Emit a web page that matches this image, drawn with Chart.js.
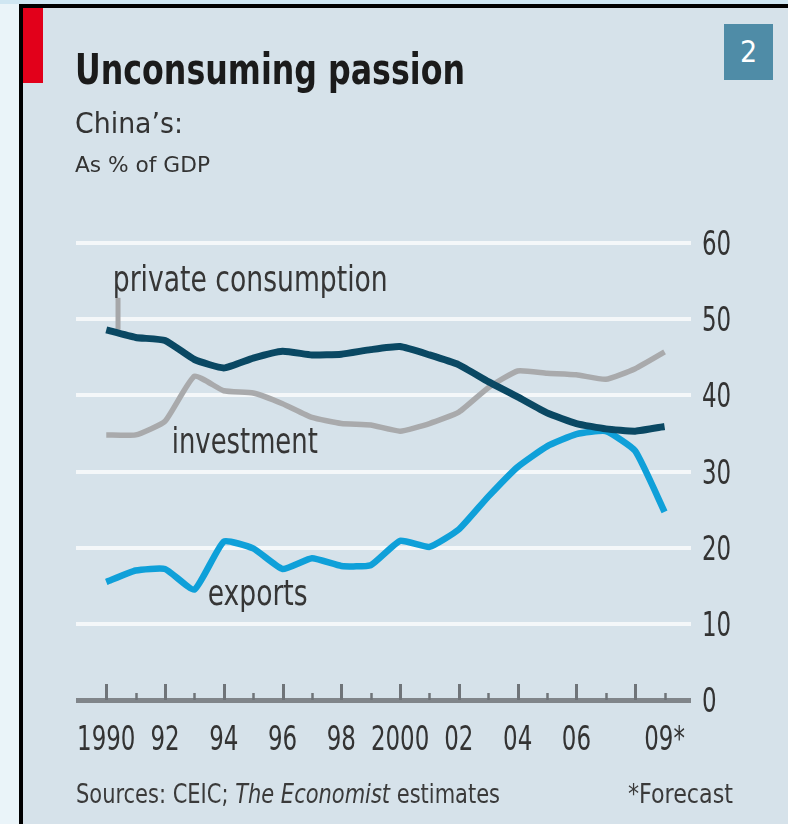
<!DOCTYPE html>
<html>
<head>
<meta charset="utf-8">
<script src="https://cdn.jsdelivr.net/npm/chart.js@4.4.0/dist/chart.umd.min.js"></script>
<style>
  html, body { margin: 0; padding: 0; }
  body { width: 788px; height: 824px; background: #eaf4f9; position: relative; overflow: hidden; }
  #topstrip { position: absolute; left: 0; top: 0; width: 788px; height: 4px; background: #cfe6f2; }
  #panel { position: absolute; left: 19px; top: 4px; width: 769px; height: 820px; background: #d6e2ea;
           border-left: 4px solid #000; border-top: 4px solid #000; box-sizing: border-box; }
  #redbar { position: absolute; left: 23px; top: 8px; width: 20px; height: 75px; background: #e2001a; }
  #badge { position: absolute; left: 724px; top: 24px; width: 49px; height: 56px; background: #4f8ca7;
           color: #fff; font: 30px 'DejaVu Sans Condensed', sans-serif; text-align: center; line-height: 56px; }
  #wrap { position: absolute; left: 0; top: 0; width: 788px; height: 824px; }
</style>
</head>
<body>
<div id="topstrip"></div>
<div id="panel"></div>
<div id="redbar"></div>
<div id="badge">2</div>
<div id="wrap"><canvas id="chart" width="788" height="824"></canvas></div>
<script>
// China's spending, % of GDP
const years = [1990, 1991, 1992, 1993, 1994, 1995, 1996, 1997, 1998, 1999,
               2000, 2001, 2002, 2003, 2004, 2005, 2006, 2007, 2008, 2009];
const privateConsumption = [48.6, 47.6, 47.2, 44.7, 43.6, 44.9, 45.8, 45.3, 45.4, 46.0,
                            46.4, 45.3, 44.0, 41.8, 39.8, 37.7, 36.3, 35.6, 35.3, 35.9];
const investment = [34.8, 34.8, 36.6, 42.5, 40.6, 40.3, 38.9, 37.1, 36.3, 36.1,
                    35.3, 36.3, 37.8, 41.0, 43.2, 42.9, 42.7, 42.1, 43.5, 45.7];
const exportsShare = [15.5, 17.0, 17.2, 14.5, 20.8, 19.9, 17.2, 18.6, 17.6, 17.7,
                      20.9, 20.1, 22.4, 26.7, 30.6, 33.3, 34.9, 35.3, 32.7, 24.7];

const tickYears = [1990, 1992, 1994, 1996, 1998, 2000, 2002, 2004, 2006, 2009];
const tickLabels = ['1990', '92', '94', '96', '98', '2000', '02', '04', '06', '09*'];
const yTicks = [0, 10, 20, 30, 40, 50, 60];

const COND = "'DejaVu Sans Condensed', sans-serif";
const TEXT = '#363636';
const SQUEEZE = 0.75;   // the Economist face is much narrower than DejaVu

function pts(values) {
    return years.map((yr, i) => ({ x: yr, y: values[i] }));
}

// draw text squeezed to a given width
function drawFitted(ctx, parts, x, baseline, width, color) {
    let total = 0;
    parts.forEach(p => { ctx.font = p.font; p.w = ctx.measureText(p.text).width; total += p.w; });
    ctx.save();
    ctx.translate(x, baseline);
    ctx.scale(width / total, 1);
    ctx.fillStyle = color;
    ctx.textBaseline = 'alphabetic';
    ctx.textAlign = 'left';
    let cx = 0;
    parts.forEach(p => { ctx.font = p.font; ctx.fillText(p.text, cx, 0); cx += p.w; });
    ctx.restore();
}

// tick label squeezed by a fixed factor, anchored left or centre
function drawSqueezed(ctx, text, x, baseline, align) {
    ctx.save();
    ctx.font = '34px ' + COND;
    ctx.translate(x, baseline);
    ctx.scale(SQUEEZE, 1);
    ctx.fillStyle = '#333';
    ctx.textBaseline = 'alphabetic';
    ctx.textAlign = align;
    ctx.fillText(text, 0, 0);
    ctx.restore();
}

const decorPlugin = {
    id: 'decor',
    beforeDatasetsDraw(chart) {
        const ctx = chart.ctx;
        const xs = chart.scales.x, ys = chart.scales.y;
        const base = ys.getPixelForValue(0);
        // tick marks sitting on the zero line
        ctx.save();
        ctx.strokeStyle = '#6f7479';
        years.forEach(yr => {
            const px = Math.round(xs.getPixelForValue(yr)) + 0.5;
            const len = yr % 2 === 0 ? 16 : 7;
            ctx.lineWidth = yr % 2 === 0 ? 3 : 2.5;
            ctx.beginPath();
            ctx.moveTo(px, base);
            ctx.lineTo(px, base - len);
            ctx.stroke();
        });
        // leader from the label to the consumption line
        const lx = xs.getPixelForValue(1990.4);
        ctx.strokeStyle = '#a6a7a9';
        ctx.lineWidth = 5;
        ctx.beginPath();
        ctx.moveTo(lx, ys.getPixelForValue(52.8));
        ctx.lineTo(lx, ys.getPixelForValue(privateConsumption[0]));
        ctx.stroke();
        ctx.restore();

        // axis labels, placed from the scales' own ticks
        xs.ticks.forEach(t => {
            drawSqueezed(ctx, tickLabels[tickYears.indexOf(t.value)], xs.getPixelForValue(t.value), 750, 'center');
        });
        ys.ticks.forEach(t => {
            drawSqueezed(ctx, String(t.value), xs.right + 11, ys.getPixelForValue(t.value) + 12, 'left');
        });
    },
    afterDatasetsDraw(chart) {
        const ctx = chart.ctx;
        const xs = chart.scales.x, ys = chart.scales.y;
        const f = "35px " + COND;
        drawFitted(ctx, [{ text: 'private consumption', font: f }],
            xs.getPixelForValue(1990.22), ys.getPixelForValue(53.7), 275, TEXT);
        drawFitted(ctx, [{ text: 'investment', font: f }],
            xs.getPixelForValue(1992.23), ys.getPixelForValue(32.4), 146, TEXT);
        drawFitted(ctx, [{ text: 'exports', font: f }],
            xs.getPixelForValue(1993.45), ys.getPixelForValue(12.5), 100, TEXT);

        // header and footer
        drawFitted(ctx, [{ text: 'Unconsuming passion', font: 'bold 42px ' + COND }], 75, 84, 390, '#1b1b1b');
        drawFitted(ctx, [{ text: 'China\u2019s:', font: '29px ' + COND }], 75, 133, 108, '#333');
        drawFitted(ctx, [{ text: 'As % of GDP', font: '22px ' + COND }], 75, 172, 135, '#333');
        drawFitted(ctx, [
            { text: 'Sources: CEIC; ', font: '26px ' + COND },
            { text: 'The Economist', font: 'italic 26px ' + COND },
            { text: ' estimates', font: '26px ' + COND }
        ], 76, 803, 424, '#3a3a3a');
        drawFitted(ctx, [{ text: '*Forecast', font: '26px ' + COND }], 628, 803, 105, '#3a3a3a');
    }
};

new Chart(document.getElementById('chart'), {
    type: 'line',
    data: {
        datasets: [
            { label: 'private consumption', data: pts(privateConsumption), borderColor: '#0a4863', borderWidth: 7 },
            { label: 'investment', data: pts(investment), borderColor: '#a9aaac', borderWidth: 5.5 },
            { label: 'exports', data: pts(exportsShare), borderColor: '#0fa0d9', borderWidth: 6.5 }
        ]
    },
    options: {
        responsive: false,
        animation: false,
        layout: { padding: { left: 76, top: 243, right: 0, bottom: 0 } },
        elements: {
            point: { radius: 0 },
            line: { tension: 0.15, borderCapStyle: 'butt', borderJoinStyle: 'round', fill: false }
        },
        plugins: { legend: { display: false }, tooltip: { enabled: false } },
        scales: {
            x: {
                type: 'linear',
                min: 1988.97,
                max: 2009.9,
                grid: { display: false, drawTicks: false },
                border: { display: false },
                afterBuildTicks: s => { s.ticks = tickYears.map(v => ({ value: v })); },
                afterFit: s => { s.height = 124; },
                ticks: { display: false }
            },
            y: {
                position: 'right',
                min: 0,
                max: 60,
                afterBuildTicks: s => { s.ticks = yTicks.map(v => ({ value: v })); },
                afterFit: s => { s.width = 97; },
                grid: {
                    drawTicks: false,
                    color: c => c.tick.value === 0 ? '#80858a' : '#f4f7f9',
                    lineWidth: c => c.tick.value === 0 ? 5 : 4
                },
                border: { display: false },
                ticks: { display: false }
            }
        }
    },
    plugins: [decorPlugin]
});
</script>
</body>
</html>
